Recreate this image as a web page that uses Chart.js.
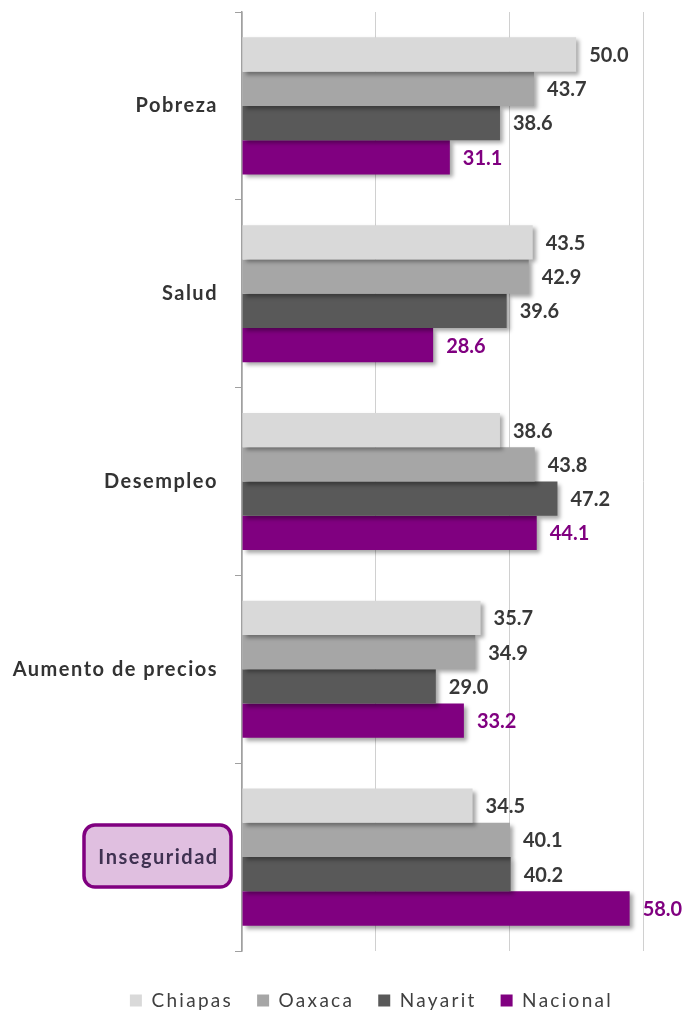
<!DOCTYPE html>
<html>
<head>
<meta charset="utf-8">
<script src="https://cdn.jsdelivr.net/npm/chart.js@4.4.0/dist/chart.umd.min.js"></script>
<style>
  html, body { margin: 0; padding: 0; background: #ffffff; }
  #wrap { width: 686px; height: 1011px; }
</style>
</head>
<body>
<div id="wrap"><canvas id="c" width="686" height="1011"></canvas></div>
<script>
const categories = ['Pobreza', 'Salud', 'Desempleo', 'Aumento de precios', 'Inseguridad'];
const seriesNames = ['Chiapas', 'Oaxaca', 'Nayarit', 'Nacional'];
const chiapas  = [50.0, 43.5, 38.6, 35.7, 34.5];
const oaxaca   = [43.7, 42.9, 43.8, 34.9, 40.1];
const nayarit  = [38.6, 39.6, 47.2, 29.0, 40.2];
const nacional = [31.1, 28.6, 44.1, 33.2, 58.0];
const xTicks = [0, 20, 40, 60];
const highlightedCategory = 'Inseguridad';

const colors = ['#d9d9d9', '#a6a6a6', '#595959', '#800080'];
const labelColors = ['#383838', '#383838', '#383838', '#800080'];
const FONT = 'Lato';

const textSpacing = {
  id: 'textSpacing',
  beforeDraw(chart) { chart.ctx.letterSpacing = '1.5px'; },
  afterDraw(chart) { chart.ctx.letterSpacing = '0px'; }
};

const valueLabels = {
  id: 'valueLabels',
  afterDatasetsDraw(chart) {
    const ctx = chart.ctx;
    ctx.save();
    ctx.shadowColor = 'transparent';
    ctx.letterSpacing = '0px';
    ctx.font = 'bold 20px ' + FONT;
    ctx.textAlign = 'left';
    ctx.textBaseline = 'middle';
    chart.data.datasets.forEach((ds, i) => {
      const meta = chart.getDatasetMeta(i);
      meta.data.forEach((bar, j) => {
        ctx.fillStyle = labelColors[i];
        ctx.fillText(ds.data[j].toFixed(1), bar.x + 13, bar.y + 1);
      });
    });
    ctx.restore();
  }
};

const barShadow = {
  id: 'barShadow',
  beforeDatasetsDraw(chart) {
    const ctx = chart.ctx;
    ctx.save();
    ctx.shadowColor = 'rgba(0,0,0,0.35)';
    ctx.shadowBlur = 4;
    ctx.shadowOffsetX = 3;
    ctx.shadowOffsetY = 3;
  },
  afterDatasetsDraw(chart) {
    chart.ctx.restore();
  }
};

const highlightBox = {
  id: 'highlightBox',
  afterDraw(chart) {
    const y = chart.scales.y;
    const idx = categories.indexOf(highlightedCategory);
    if (idx < 0) return;
    const cy = y.getPixelForValue(idx);
    const ctx = chart.ctx;
    const x0 = 84, x1 = 231, h = 62;
    const y0 = cy - h / 2 - 1;
    ctx.save();
    ctx.beginPath();
    ctx.roundRect(x0, y0, x1 - x0, h, 11);
    ctx.fillStyle = '#e0bfe0';
    ctx.fill();
    ctx.lineWidth = 3.5;
    ctx.strokeStyle = '#800080';
    ctx.stroke();
    ctx.letterSpacing = '1.5px';
    ctx.font = 'bold 20px ' + FONT;
    ctx.fillStyle = '#3f3151';
    ctx.textAlign = 'center';
    ctx.textBaseline = 'middle';
    ctx.fillText(categories[idx], (x0 + x1) / 2 + 1, cy);
    ctx.restore();
  }
};

const legendTweaks = {
  id: 'legendTweaks',
  afterInit(chart) {
    const lg = chart.legend;
    if (!lg) return;
    const origFit = lg.fit.bind(lg);
    const origDraw = lg.draw.bind(lg);
    lg.fit = function () {
      const ctx = chart.ctx;
      ctx.save();
      ctx.letterSpacing = '2.3px';
      origFit();
      ctx.restore();
    };
    lg.draw = function () {
      const ctx = chart.ctx;
      ctx.save();
      ctx.letterSpacing = '2.3px';
      origDraw();
      ctx.restore();
    };
  },
  afterLayout(chart) {
    const lg = chart.legend;
    if (!lg) return;
    lg.left += 50;
    lg.right += 50;
    lg.top += 9;
    lg.bottom += 9;
  }
};

const datasets = [chiapas, oaxaca, nayarit, nacional].map((d, i) => ({
  label: seriesNames[i],
  data: d,
  backgroundColor: colors[i],
  borderWidth: 0,
  categoryPercentage: 0.73,
  barPercentage: 1.0
}));

new Chart(document.getElementById('c'), {
  type: 'bar',
  data: { labels: categories, datasets },
  options: {
    indexAxis: 'y',
    responsive: false,
    animation: false,
    events: [],
    layout: { padding: { left: 0, right: 43, top: 12, bottom: 0 } },
    scales: {
      x: {
        min: 0, max: 60,
        afterBuildTicks(scale) { scale.ticks = xTicks.map(v => ({ value: v })); },
        ticks: { display: false },
        grid: { color: '#d0d0d0', lineWidth: 1, drawTicks: false },
        border: { display: false },
        afterFit(scale) { scale.height = 7; scale.paddingLeft = 0; scale.paddingRight = 0; }
      },
      y: {
        ticks: {
          color: '#333333',
          font: { family: FONT, size: 20, weight: 'bold' },
          padding: 17,
          callback(v, i) { return categories[i] === highlightedCategory ? '' : categories[i]; }
        },
        grid: { drawOnChartArea: false, drawTicks: true, tickLength: 7, color: '#a0a0a0', offset: true },
        border: { display: true, color: '#a0a0a0', width: 1.5 },
        afterFit(scale) { scale.width = 242; scale.paddingTop = 0; scale.paddingBottom = 0; }
      }
    },
    plugins: {
      legend: {
        position: 'bottom',
        labels: {
          boxWidth: 12, boxHeight: 12,
          padding: 24,
          color: '#404040',
          font: { family: FONT, size: 19 }
        }
      },
      tooltip: { enabled: false }
    }
  },
  plugins: [textSpacing, barShadow, valueLabels, highlightBox, legendTweaks]
});
</script>
</body>
</html>
